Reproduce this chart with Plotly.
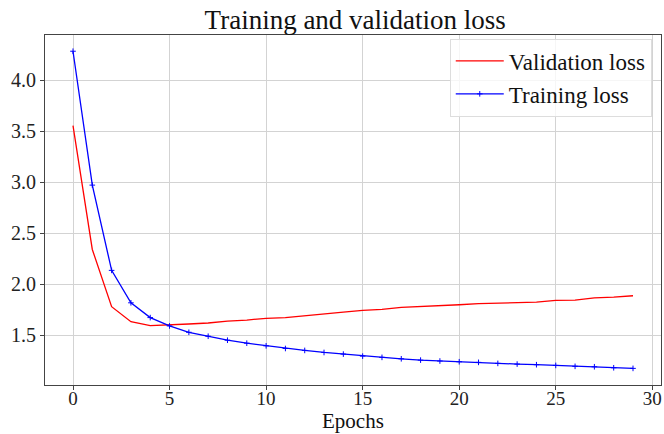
import plotly.graph_objects as go

epochs = list(range(30))
val_loss = [3.558, 2.343, 1.782, 1.635, 1.597, 1.602, 1.612, 1.622, 1.641, 1.651,
            1.668, 1.674, 1.694, 1.713, 1.729, 1.746, 1.755, 1.775, 1.782, 1.794,
            1.801, 1.811, 1.817, 1.827, 1.827, 1.843, 1.846, 1.869, 1.875, 1.889]
train_loss = [4.287, 2.974, 2.138, 1.820, 1.675, 1.593, 1.531, 1.492, 1.453, 1.424,
              1.398, 1.372, 1.353, 1.333, 1.317, 1.297, 1.285, 1.271, 1.258, 1.249,
              1.242, 1.236, 1.226, 1.219, 1.213, 1.206, 1.197, 1.193, 1.183, 1.177]
x_ticks = [0, 5, 10, 15, 20, 25, 30]
y_ticks = [1.5, 2.0, 2.5, 3.0, 3.5, 4.0]

FONT = "Liberation Serif"

fig = go.Figure()
fig.add_trace(go.Scatter(x=epochs, y=val_loss, mode="lines", name="Validation loss",
                         line=dict(color="red", width=1.3)))
fig.add_trace(go.Scatter(x=epochs, y=train_loss, mode="lines+markers", name="Training loss",
                         line=dict(color="blue", width=1.3),
                         marker=dict(symbol="cross-thin", size=4,
                                     line=dict(color="blue", width=1))))

axis_common = dict(showline=True, mirror=True, linecolor="#444", linewidth=1,
                   ticks="outside", ticklen=4, tickcolor="#444",
                   showgrid=True, gridcolor="#d3d3d3", gridwidth=1, zeroline=False,
                   automargin=False,
                   tickfont=dict(family=FONT, size=20, color="#222"))

fig.update_layout(
    width=664, height=434,
    margin=dict(l=45, r=3, t=35, b=49),
    paper_bgcolor="white", plot_bgcolor="white",
    title=dict(text="Training and validation loss", x=0.535, xanchor="center",
               y=0.955, yanchor="middle",
               font=dict(family=FONT, size=27, color="#111")),
    xaxis=dict(range=[-1.45, 30.45], tickvals=x_ticks, ticklabelstandoff=-8,
               **{**axis_common, "tickfont": dict(family=FONT, size=19, color="#222")}),
    yaxis=dict(range=[1.014, 4.446], tickvals=y_ticks, tickformat=".1f", **axis_common),
    legend=dict(x=0.985, y=0.99, xanchor="right", yanchor="top",
                bgcolor="rgba(255,255,255,0.8)", bordercolor="#ddd", borderwidth=1,
                font=dict(family=FONT, size=23, color="#111"),
                itemwidth=48, tracegroupgap=0),
    showlegend=True,
    annotations=[dict(text="Epochs", xref="paper", yref="paper", x=0.5, y=-0.14,
                      xanchor="center", yanchor="bottom", showarrow=False, borderpad=0,
                      font=dict(family=FONT, size=21, color="#111"))],
)

fig.write_html("out.html")
